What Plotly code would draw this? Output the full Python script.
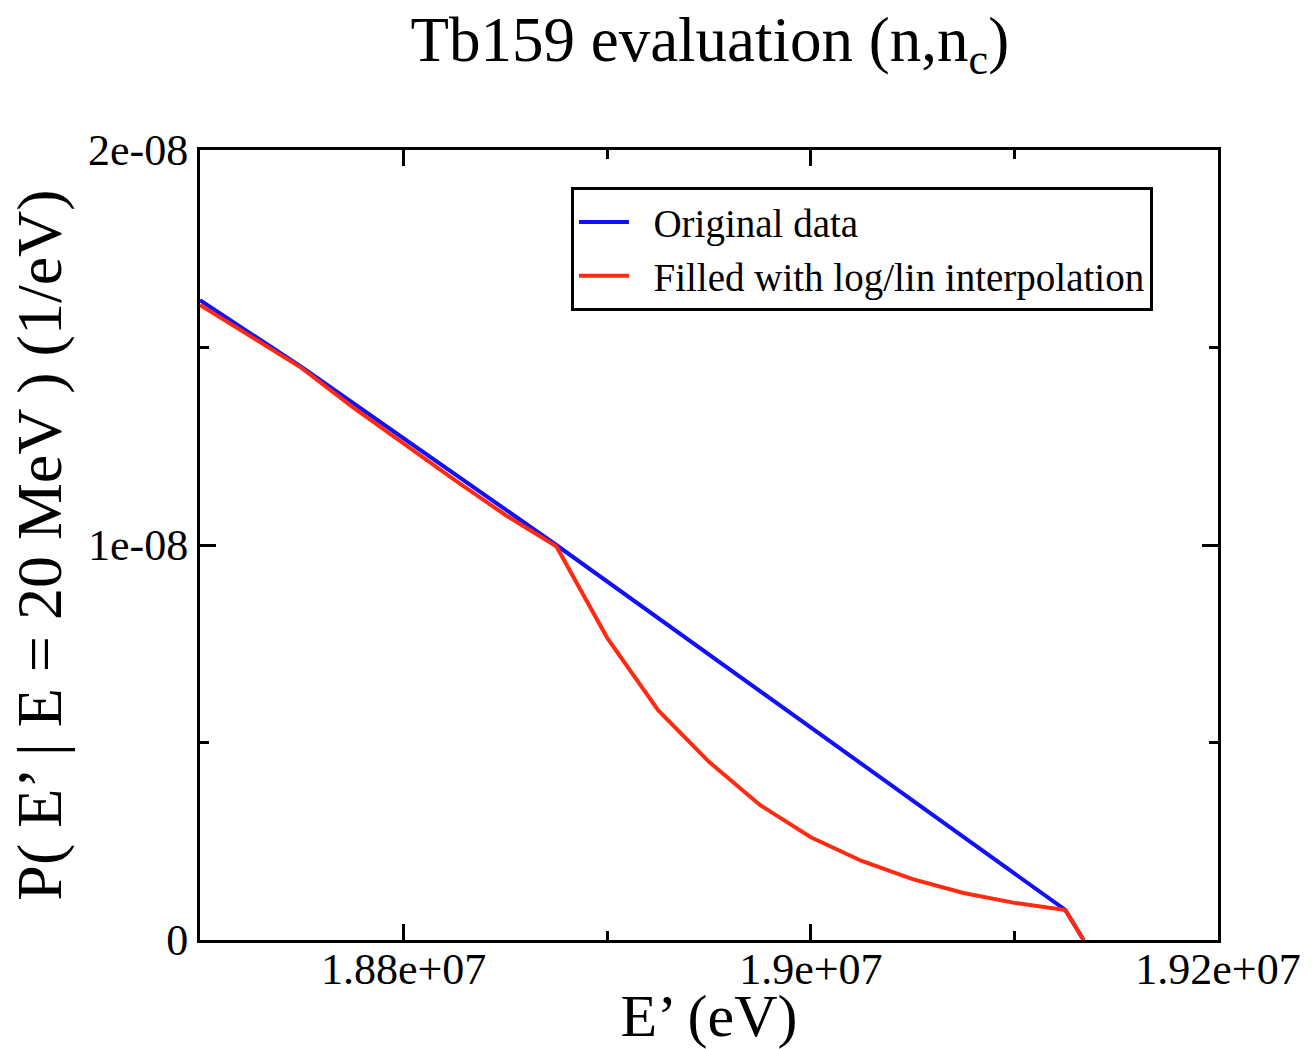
import plotly.graph_objects as go

# Original data (blue)
orig_x = [1.8700e7, 1.8750e7, 1.8875e7, 1.9125e7, 1.9134e7]
orig_y = [1.620e-8, 1.450e-8, 1.000e-8, 0.076e-8, 0.0]

# Filled with log/lin interpolation (red)
fill_x = [1.8700e7, 1.8725e7, 1.8750e7, 1.8775e7, 1.8800e7, 1.8825e7, 1.8850e7,
          1.8875e7, 1.8900e7, 1.8925e7, 1.8950e7, 1.8975e7, 1.9000e7, 1.9025e7,
          1.9050e7, 1.9075e7, 1.9100e7, 1.9125e7, 1.9134e7]
fill_y = [1.608e-8, 1.527e-8, 1.448e-8, 1.349e-8, 1.256e-8, 1.165e-8, 1.076e-8,
          0.997e-8, 0.765e-8, 0.582e-8, 0.451e-8, 0.342e-8, 0.260e-8, 0.200e-8,
          0.154e-8, 0.119e-8, 0.094e-8, 0.076e-8, 0.0]

x_tickvals = [1.88e7, 1.90e7, 1.92e7]
x_ticktext = ["1.88e+07", "1.9e+07", "1.92e+07"]
y_tickvals = [0, 1e-8, 2e-8]
y_ticktext = ["0", "1e-08", "2e-08"]

FONT = "Liberation Serif, Times New Roman, serif"
PAD = "\u00a0\u00a0"

fig = go.Figure()
fig.add_trace(go.Scatter(x=orig_x, y=orig_y, mode="lines", name=PAD + "Original data",
                         line=dict(color="#1010ff", width=4)))
fig.add_trace(go.Scatter(x=fill_x, y=fill_y, mode="lines",
                         name=PAD + "Filled with log/lin interpolation",
                         line=dict(color="#ff2a10", width=4)))

axis_common = dict(
    showline=True, linecolor="black", linewidth=3, mirror="allticks",
    ticks="inside", ticklen=16, tickwidth=3, tickcolor="black",
    showgrid=False, zeroline=False, automargin=False,
    tickfont=dict(family=FONT, size=44, color="black"),
)

fig.update_xaxes(
    range=[1.87e7, 1.92e7], tickmode="array", tickvals=x_tickvals, ticktext=x_ticktext,
    ticklabelstandoff=-12,
    minor=dict(ticks="inside", ticklen=9, tickwidth=3, tickcolor="black", dtick=1e5,
               tick0=1.87e7, showgrid=False),
    title=dict(text="E’ (eV)", font=dict(family=FONT, size=60, color="black"), standoff=0),
    **axis_common,
)
fig.update_yaxes(
    range=[0, 2e-8], tickmode="array", tickvals=y_tickvals, ticktext=y_ticktext,
    minor=dict(ticks="inside", ticklen=9, tickwidth=3, tickcolor="black", dtick=0.5e-8,
               tick0=0, showgrid=False),
    title=dict(text="P( E’ | E = 20 MeV ) (1/eV)", font=dict(family=FONT, size=64, color="black"),
               standoff=6),
    **axis_common,
)

fig.update_layout(
    width=1312, height=1049,
    margin=dict(l=200, r=94, t=150, b=109),
    paper_bgcolor="white", plot_bgcolor="white",
    title=dict(text="Tb159 evaluation (n,n<sub>c</sub>)", x=0.541, xanchor="center",
               y=0.963, yanchor="middle",
               font=dict(family=FONT, size=63, color="black")),
    legend=dict(x=0.3644, y=0.953, xanchor="left", yanchor="top",
                bgcolor="white", bordercolor="black", borderwidth=3,
                font=dict(family=FONT, size=39, color="black"),
                itemwidth=50, tracegroupgap=0),
    showlegend=True,
)

fig.write_html("out.html")
